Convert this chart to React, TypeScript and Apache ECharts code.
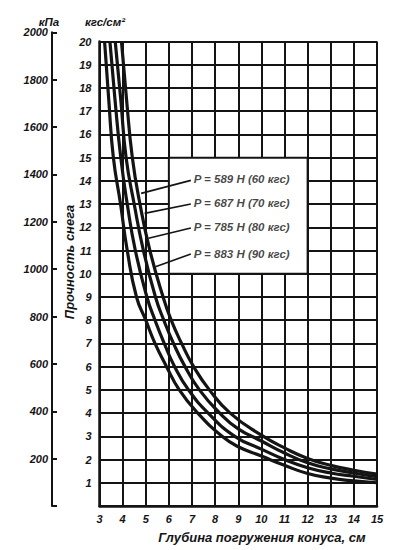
import React, { useEffect, useRef } from "react";
import * as echarts from "echarts";

// Curves: [cone penetration depth (cm), snow strength (kgf/cm²)]
const curve589: [number, number][] = [
  [3.22, 20], [3.4, 17.5], [3.6, 15], [3.91, 13], [4.2, 11], [4.6, 9], [5.0, 8], [5.4, 7],
  [5.9, 6], [6.45, 5], [7.25, 4], [8.3, 3], [9, 2.55], [10, 2.15], [11, 1.75], [12, 1.4],
  [13, 1.2], [14, 1.08], [15, 1.0],
];
const curve687: [number, number][] = [
  [3.45, 20], [3.67, 17.5], [3.92, 15], [4.2, 13], [4.55, 11], [5.05, 9], [5.4, 8], [5.8, 7],
  [6.25, 6], [6.85, 5], [7.7, 4], [8.85, 3], [10, 2.45], [11, 2.0], [12, 1.65],
  [13, 1.42], [14, 1.28], [15, 1.14],
];
const curve785: [number, number][] = [
  [3.68, 20], [3.92, 17.5], [4.15, 15], [4.5, 13], [4.9, 11], [5.42, 9], [5.78, 8], [6.2, 7],
  [6.7, 6], [7.32, 5], [8.2, 4], [9, 3.32], [10, 2.8], [11, 2.28], [12, 1.86], [13, 1.6],
  [14, 1.42], [15, 1.26],
];
const curve883: [number, number][] = [
  [3.95, 20], [4.17, 17.5], [4.42, 15], [4.75, 13], [5.18, 11], [5.75, 9], [6.1, 8], [6.55, 7],
  [7.07, 6], [7.75, 5], [8.65, 4], [10, 3.05], [11, 2.5], [12, 2.05], [13, 1.75],
  [14, 1.54], [15, 1.37],
];
const curves = [curve589, curve687, curve785, curve883];

const curveLabels = [
  "P = 589 Н (60 кгс)",
  "P = 687 Н (70 кгс)",
  "P = 785 Н (80 кгс)",
  "P = 883 Н (90 кгс)",
];
// label anchors and leader lines in data coordinates (depth, kgf/cm²)
const labelAnchors: [number, number][] = [[7.05, 14.1], [7.05, 13.05], [7.05, 12.0], [7.05, 10.85]];
const leaderLines: [number, number][][] = [
  [[6.95, 14.02], [4.8, 13.46]],
  [[6.95, 13.0], [4.95, 12.6]],
  [[6.95, 11.97], [5.12, 11.53]],
  [[6.95, 10.85], [5.42, 10.3]],
];
// blank legend panel on the grid (depth 6–12, strength 10–15)
const panelFrom: [number, number] = [6, 15];
const panelTo: [number, number] = [12, 10];

const depthMin = 3, depthMax = 15, depthStep = 1;
const kgfMin = 0, kgfMax = 20, kgfStep = 1;
const kpaMin = 0, kpaMax = 2000, kpaStep = 200;

const xTitle = "Глубина погружения конуса, см";
const yTitle = "Прочность снега";
const kgfUnit = "кгс/см²";
const kpaUnit = "кПа";

const INK = "#141414";
const FONT = "'Liberation Sans', Arial, sans-serif";
const txt = { fontFamily: FONT, fontWeight: "bold" as const, fontStyle: "italic" as const, color: INK, fontSize: 11 };

export default function App() {
  const ref = useRef<HTMLDivElement>(null);
  useEffect(() => {
    const chart = echarts.init(ref.current!, null, { renderer: "svg" });
    const gridTop = 41.5;
    const gridBottom = 44;
    const plotH = 550 - gridTop - gridBottom;
    const kpaTop = 550 - gridBottom - plotH * (kpaMax / 98.0665) / kgfMax;
    const option: any = {
      animation: false,
      backgroundColor: "#fff",
      grid: [
        { left: 99.5, right: 20, top: gridTop, bottom: gridBottom },
        { left: 52, width: 1, top: kpaTop, bottom: gridBottom },
      ],
      xAxis: [
        {
          type: "value", gridIndex: 0, min: depthMin, max: depthMax, interval: depthStep,
          axisLine: { show: true, lineStyle: { color: INK, width: 2.5 } },
          axisTick: { show: false },
          axisLabel: { ...txt, margin: 7 },
          splitLine: { show: true, lineStyle: { color: INK, width: 2 } },
        },
        { type: "value", gridIndex: 1, show: false, min: 0, max: 1 },
      ],
      yAxis: [
        {
          type: "value", gridIndex: 0, min: kgfMin, max: kgfMax, interval: kgfStep,
          axisLine: { show: true, lineStyle: { color: INK, width: 2.5 } },
          axisTick: { show: false },
          axisLabel: { ...txt, margin: 8, formatter: (v: number) => (v === 0 ? "" : String(v)) },
          splitLine: { show: true, lineStyle: { color: INK, width: 2 } },
        },
        {
          type: "value", gridIndex: 1, min: kpaMin, max: kpaMax, interval: kpaStep,
          axisLine: { show: true, lineStyle: { color: INK, width: 2 } },
          axisTick: { show: true, inside: true, length: 5, lineStyle: { color: INK, width: 2 } },
          axisLabel: { ...txt, margin: 4, formatter: (v: number) => (v === 0 ? "" : String(v)) },
          splitLine: { show: false },
        },
      ],
      series: [
        ...curves.map((c, i) => ({
          type: "line",
          xAxisIndex: 0, yAxisIndex: 0,
          data: c,
          smooth: 0.5,
          symbol: "none",
          lineStyle: { color: INK, width: 3.2 },
          z: 4,
          ...(i === 0
            ? {
                markArea: {
                  silent: true,
                  itemStyle: { color: "#fff", borderColor: INK, borderWidth: 2 },
                  data: [[{ coord: panelFrom }, { coord: panelTo }]],
                },
              }
            : {}),
        })),
        {
          type: "lines",
          coordinateSystem: "cartesian2d",
          xAxisIndex: 0, yAxisIndex: 0,
          data: leaderLines.map((l) => ({ coords: l })),
          lineStyle: { color: INK, width: 1.6, opacity: 1 },
          z: 6,
        },
        {
          type: "scatter",
          xAxisIndex: 0, yAxisIndex: 0,
          symbolSize: 1,
          itemStyle: { color: "rgba(0,0,0,0)" },
          data: labelAnchors.map((p, i) => ({ value: p, name: curveLabels[i] })),
          label: { show: true, position: "right", distance: 0, formatter: "{b}", ...txt, fontSize: 11.5 },
          z: 7,
        },
      ],
      graphic: [
        { type: "text", x: 49, y: 22, style: { text: kpaUnit, fill: INK, font: `italic bold 11.5px ${FONT}`, textAlign: "center", textVerticalAlign: "middle" } },
        { type: "text", x: 105, y: 22, style: { text: kgfUnit, fill: INK, font: `italic bold 11.5px ${FONT}`, textAlign: "center", textVerticalAlign: "middle" } },
        { type: "text", x: 69, y: 262, rotation: Math.PI / 2, style: { text: yTitle, fill: INK, font: `italic bold 13px ${FONT}`, textAlign: "center", textVerticalAlign: "middle" } },
        { type: "text", x: 262, y: 537, style: { text: xTitle, fill: INK, font: `italic bold 13px ${FONT}`, textAlign: "center", textVerticalAlign: "middle" } },
      ],
    };
    chart.setOption(option);
    return () => chart.dispose();
  }, []);
  return (
    <div
      ref={ref}
      style={{ position: "absolute", left: 0, top: 0, width: 397, height: 550, background: "#fff" }}
    />
  );
}
